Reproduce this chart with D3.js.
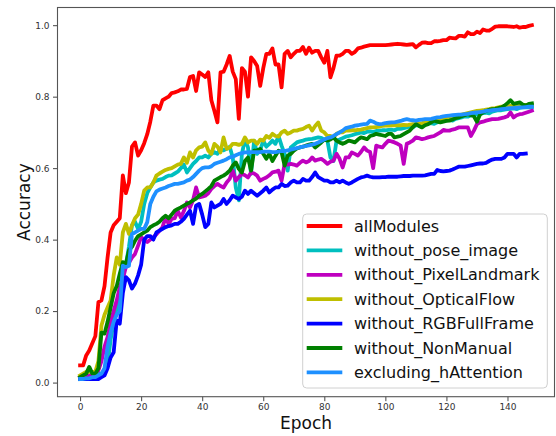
<!DOCTYPE html>
<html>
<head>
<meta charset="utf-8">
<script src="https://cdn.jsdelivr.net/npm/d3@7"></script>
<style>
  body { margin: 0; background: #fff; }
  svg { display: block; font-family: "DejaVu Sans", sans-serif; }
</style>
</head>
<body>
<svg id="chart" width="556" height="436"></svg>
<script>
var seriesNames = ["allModules", "without_pose_image", "without_PixelLandmark", "without_OpticalFlow",
  "without_RGBFullFrame", "without_NonManual", "excluding_hAttention"];
var seriesColors = ["#ff0000", "#00bfbf", "#bf00bf", "#bfbf00", "#0000ff", "#008000", "#1e90ff"];

var allModules = [0.048,0.048,0.076,0.09,0.11,0.13,0.225,0.23,0.27,0.35,
  0.42,0.44,0.45,0.46,0.58,0.53,0.56,0.66,0.672,0.635,
  0.65,0.67,0.695,0.73,0.775,0.775,0.765,0.79,0.795,0.80,
  0.81,0.812,0.815,0.82,0.82,0.822,0.855,0.858,0.816,0.868,
  0.862,0.855,0.868,0.79,0.76,0.728,0.868,0.87,0.89,0.914,
  0.87,0.849,0.738,0.88,0.87,0.80,0.91,0.90,0.886,0.83,
  0.88,0.92,0.92,0.935,0.89,0.89,0.826,0.92,0.928,0.91,
  0.92,0.928,0.928,0.939,0.92,0.937,0.923,0.928,0.928,0.91,
  0.895,0.928,0.854,0.88,0.915,0.915,0.92,0.928,0.928,0.92,
  0.925,0.935,0.937,0.94,0.942,0.944,0.944,0.944,0.944,0.944,
  0.944,0.945,0.946,0.947,0.948,0.947,0.946,0.945,0.946,0.947,
  0.938,0.945,0.951,0.952,0.95,0.95,0.955,0.955,0.956,0.958,
  0.958,0.965,0.964,0.963,0.97,0.97,0.968,0.98,0.975,0.975,
  0.982,0.978,0.988,0.985,0.985,0.99,0.996,0.997,0.997,0.997,
  0.997,0.996,0.995,0.997,0.993,0.995,0.995,0.998,1.0];

var withoutPose = [0.01,0.012,0.012,0.015,0.015,0.02,0.025,0.025,0.03,0.05,
  0.12,0.17,0.20,0.25,0.30,0.33,0.38,0.44,0.45,0.43,
  0.45,0.50,0.53,0.546,0.56,0.565,0.568,0.57,0.575,0.579,
  0.58,0.585,0.59,0.60,0.61,0.588,0.60,0.612,0.62,0.63,
  0.63,0.635,0.63,0.64,0.645,0.64,0.655,0.65,0.654,0.66,
  0.63,0.546,0.51,0.64,0.68,0.658,0.584,0.677,0.64,0.65,
  0.677,0.66,0.668,0.677,0.668,0.69,0.663,0.64,0.593,0.658,
  0.665,0.672,0.675,0.677,0.68,0.681,0.682,0.684,0.686,0.685,
  0.68,0.677,0.63,0.62,0.677,0.68,0.684,0.688,0.69,0.692,
  0.695,0.697,0.70,0.698,0.702,0.703,0.701,0.704,0.705,0.706,
  0.706,0.707,0.708,0.706,0.71,0.71,0.712,0.714,0.716,0.714,
  0.72,0.72,0.722,0.724,0.725,0.726,0.724,0.728,0.73,0.732,
  0.734,0.735,0.733,0.738,0.74,0.742,0.745,0.744,0.748,0.75,
  0.75,0.752,0.754,0.755,0.753,0.758,0.76,0.762,0.762,0.764,
  0.765,0.766,0.767,0.765,0.769,0.77,0.77,0.771,0.77];

var withoutPixel = [0.015,0.02,0.018,0.02,0.02,0.03,0.034,0.06,0.10,0.127,
  0.17,0.20,0.23,0.267,0.29,0.323,0.335,0.35,0.36,0.383,
  0.407,0.40,0.393,0.40,0.407,0.415,0.425,0.435,0.462,0.444,
  0.458,0.46,0.481,0.462,0.48,0.504,0.49,0.51,0.546,0.518,
  0.52,0.523,0.53,0.542,0.55,0.556,0.55,0.546,0.56,0.57,
  0.593,0.565,0.575,0.584,0.58,0.574,0.588,0.585,0.579,0.565,
  0.57,0.574,0.58,0.588,0.59,0.593,0.565,0.612,0.61,0.612,
  0.61,0.607,0.615,0.621,0.616,0.62,0.63,0.621,0.624,0.626,
  0.62,0.612,0.618,0.621,0.64,0.626,0.602,0.63,0.63,0.644,
  0.64,0.635,0.645,0.658,0.649,0.645,0.60,0.663,0.66,0.658,
  0.668,0.677,0.675,0.672,0.668,0.663,0.612,0.668,0.672,0.677,
  0.686,0.684,0.681,0.683,0.686,0.688,0.69,0.695,0.70,0.707,
  0.705,0.705,0.708,0.71,0.714,0.714,0.714,0.714,0.69,0.705,
  0.723,0.728,0.73,0.733,0.735,0.737,0.737,0.738,0.74,0.742,
  0.745,0.756,0.742,0.748,0.751,0.752,0.755,0.758,0.761];

var withoutOptical = [0.02,0.025,0.03,0.03,0.03,0.03,0.06,0.16,0.19,0.21,
  0.23,0.30,0.35,0.33,0.42,0.444,0.416,0.44,0.46,0.47,
  0.50,0.537,0.546,0.546,0.56,0.579,0.585,0.59,0.595,0.598,
  0.60,0.605,0.61,0.612,0.63,0.615,0.644,0.63,0.65,0.658,
  0.66,0.672,0.649,0.64,0.668,0.66,0.644,0.686,0.654,0.658,
  0.668,0.668,0.665,0.668,0.686,0.672,0.677,0.677,0.668,0.68,
  0.677,0.69,0.685,0.696,0.69,0.688,0.70,0.705,0.696,0.70,
  0.705,0.705,0.708,0.71,0.715,0.719,0.705,0.718,0.728,0.705,
  0.70,0.69,0.69,0.686,0.696,0.70,0.70,0.705,0.705,0.706,
  0.706,0.707,0.708,0.71,0.712,0.714,0.714,0.715,0.716,0.718,
  0.719,0.719,0.72,0.72,0.72,0.72,0.721,0.72,0.722,0.723,
  0.723,0.725,0.726,0.728,0.73,0.732,0.733,0.735,0.737,0.738,
  0.74,0.742,0.744,0.747,0.748,0.75,0.752,0.754,0.756,0.758,
  0.76,0.761,0.762,0.764,0.765,0.767,0.768,0.77,0.772,0.772,
  0.773,0.774,0.775,0.775,0.776,0.776,0.777,0.777,0.777];

var withoutRGB = [0.01,0.01,0.01,0.01,0.01,0.01,0.01,0.015,0.02,0.04,
  0.07,0.085,0.174,0.165,0.25,0.295,0.286,0.263,0.277,0.30,
  0.33,0.40,0.41,0.41,0.40,0.42,0.425,0.43,0.435,0.438,
  0.44,0.444,0.444,0.45,0.458,0.47,0.481,0.444,0.495,0.50,
  0.47,0.435,0.444,0.504,0.49,0.495,0.50,0.514,0.50,0.51,
  0.523,0.518,0.514,0.52,0.537,0.528,0.537,0.53,0.523,0.53,
  0.537,0.546,0.532,0.54,0.546,0.546,0.556,0.55,0.551,0.56,
  0.565,0.56,0.56,0.57,0.565,0.565,0.575,0.588,0.575,0.57,
  0.565,0.565,0.56,0.56,0.565,0.56,0.565,0.56,0.556,0.56,
  0.565,0.57,0.574,0.576,0.579,0.576,0.574,0.574,0.574,0.575,
  0.575,0.576,0.576,0.576,0.576,0.577,0.578,0.578,0.578,0.579,
  0.579,0.579,0.579,0.58,0.582,0.584,0.584,0.595,0.592,0.591,
  0.592,0.593,0.596,0.60,0.604,0.604,0.604,0.606,0.608,0.61,
  0.612,0.613,0.613,0.615,0.62,0.624,0.626,0.626,0.626,0.63,
  0.64,0.64,0.64,0.63,0.64,0.64,0.641];

var withoutNonManual = [0.015,0.02,0.025,0.044,0.025,0.025,0.04,0.14,0.137,0.17,
  0.21,0.25,0.27,0.305,0.337,0.332,0.37,0.38,0.397,0.41,
  0.415,0.42,0.425,0.435,0.44,0.444,0.45,0.46,0.467,0.46,
  0.47,0.481,0.486,0.49,0.495,0.50,0.504,0.51,0.515,0.523,
  0.528,0.535,0.542,0.55,0.565,0.57,0.575,0.579,0.585,0.593,
  0.607,0.616,0.598,0.588,0.62,0.63,0.593,0.649,0.65,0.654,
  0.64,0.626,0.64,0.62,0.635,0.649,0.644,0.607,0.635,0.64,
  0.649,0.655,0.658,0.66,0.663,0.666,0.668,0.658,0.665,0.672,
  0.68,0.677,0.68,0.686,0.677,0.672,0.668,0.672,0.677,0.675,
  0.672,0.68,0.686,0.684,0.681,0.69,0.692,0.696,0.694,0.692,
  0.69,0.696,0.696,0.686,0.688,0.69,0.695,0.70,0.705,0.715,
  0.723,0.718,0.714,0.72,0.723,0.728,0.733,0.73,0.728,0.73,
  0.732,0.733,0.736,0.74,0.742,0.745,0.748,0.751,0.748,0.745,
  0.73,0.75,0.756,0.76,0.763,0.765,0.766,0.768,0.77,0.775,
  0.782,0.79,0.78,0.782,0.784,0.778,0.775,0.78,0.781];

var excludingAttention = [0.01,0.01,0.012,0.012,0.015,0.015,0.02,0.025,0.04,0.10,
  0.14,0.17,0.19,0.20,0.327,0.323,0.327,0.416,0.42,0.425,
  0.43,0.43,0.449,0.50,0.52,0.535,0.54,0.543,0.546,0.55,
  0.553,0.556,0.556,0.558,0.56,0.565,0.568,0.575,0.584,0.593,
  0.60,0.602,0.602,0.605,0.612,0.615,0.618,0.621,0.625,0.63,
  0.632,0.636,0.64,0.642,0.644,0.644,0.645,0.645,0.645,0.645,
  0.646,0.646,0.646,0.645,0.645,0.646,0.648,0.648,0.65,0.652,
  0.654,0.656,0.658,0.66,0.662,0.664,0.666,0.668,0.672,0.676,
  0.68,0.684,0.686,0.69,0.695,0.70,0.705,0.712,0.714,0.716,
  0.719,0.72,0.722,0.723,0.724,0.733,0.73,0.725,0.723,0.724,
  0.726,0.727,0.728,0.728,0.73,0.732,0.735,0.737,0.735,0.734,
  0.733,0.735,0.736,0.737,0.737,0.738,0.74,0.742,0.743,0.745,
  0.746,0.747,0.748,0.749,0.75,0.75,0.751,0.752,0.754,0.755,
  0.756,0.757,0.758,0.76,0.761,0.762,0.763,0.764,0.765,0.766,
  0.767,0.768,0.768,0.769,0.77,0.77,0.771,0.772,0.772];

var xTicks = [0, 20, 40, 60, 80, 100, 120, 140];
var yTicks = [0.0, 0.2, 0.4, 0.6, 0.8, 1.0];

var allSeries = [allModules, withoutPose, withoutPixel, withoutOptical, withoutRGB, withoutNonManual, excludingAttention];

var svg = d3.select("svg#chart");
var margin = {"top": 7.5, "right": 1.5, "bottom": 39.3, "left": 57.5};
var width = +svg.attr("width");
var height = +svg.attr("height");
var plotW = width - margin.left - margin.right;
var plotH = height - margin.top - margin.bottom;

// matplotlib style 5% padding on data limits
var xMax = d3.max(allSeries, function (s) { return s.length - 1; });
var yMin = d3.min(allSeries, function (s) { return d3.min(s); });
var yMax = d3.max(allSeries, function (s) { return d3.max(s); });
var xPad = xMax * 0.05, yPad = (yMax - yMin) * 0.05;

var xScale = d3.scaleLinear().domain([-xPad, xMax + xPad]).range([0, plotW]);
var yScale = d3.scaleLinear().domain([yMin - yPad, yMax + yPad]).range([plotH, 0]);

var g = svg.append("g").attr("transform", "translate(" + margin.left + "," + margin.top + ")");

g.append("defs").append("clipPath").attr("id", "clip")
  .append("rect").attr("width", plotW).attr("height", plotH);

var line = d3.line()
  .x(function (d, i) { return xScale(i); })
  .y(function (d) { return yScale(d); });

g.append("g").attr("clip-path", "url(#clip)")
  .selectAll("path")
  .data(allSeries)
  .enter().append("path")
  .attr("d", line)
  .attr("fill", "none")
  .attr("stroke", function (d, i) { return seriesColors[i]; })
  .attr("stroke-width", 3.8)
  .attr("stroke-linejoin", "round")
  .attr("stroke-linecap", "square");

var bottomAxis = d3.axisBottom(xScale).tickValues(xTicks).tickSize(4.5).tickPadding(2);
var leftAxis = d3.axisLeft(yScale).tickValues(yTicks).tickFormat(d3.format(".1f")).tickSize(4.5).tickPadding(3.5);

var ax = g.append("g").attr("transform", "translate(0," + plotH + ")").call(bottomAxis);
var ay = g.append("g").call(leftAxis);
[ax, ay].forEach(function (a) {
  a.select(".domain").remove();
  a.selectAll("line").attr("stroke", "#444");
  a.selectAll("text").attr("fill", "#333").style("font-size", "9px").style("font-family", "DejaVu Sans, sans-serif");
});

g.append("rect").attr("width", plotW).attr("height", plotH)
  .attr("fill", "none").attr("stroke", "#555").attr("stroke-width", 1.1);

svg.append("text")
  .attr("x", margin.left + plotW / 2).attr("y", 428.5)
  .attr("text-anchor", "middle").style("font-size", "17px").attr("fill", "#111")
  .text("Epoch");

svg.append("text")
  .attr("transform", "translate(30," + (margin.top + plotH / 2) + ") rotate(-90)")
  .attr("text-anchor", "middle").style("font-size", "17px").attr("fill", "#111")
  .text("Accuracy");

// legend, lower right
var legend = svg.append("g").attr("transform", "translate(302.7,214)");
legend.append("rect").attr("width", 244.6).attr("height", 174).attr("rx", 4)
  .attr("fill", "#fff").attr("fill-opacity", 0.85).attr("stroke", "#d0d0d0");

var rows = legend.selectAll("g.row").data(seriesNames).enter().append("g")
  .attr("class", "row")
  .attr("transform", function (d, i) { return "translate(0," + (12 + i * 24.4) + ")"; });
rows.append("line").attr("x1", 4).attr("x2", 39.6).attr("y1", 0).attr("y2", 0)
  .attr("stroke", function (d, i) { return seriesColors[i]; }).attr("stroke-width", 3.8);
rows.append("text").attr("x", 51.3).attr("y", 0).attr("dy", "0.35em")
  .style("font-size", "16px").attr("fill", "#111")
  .text(function (d) { return d; });
</script>
</body>
</html>
